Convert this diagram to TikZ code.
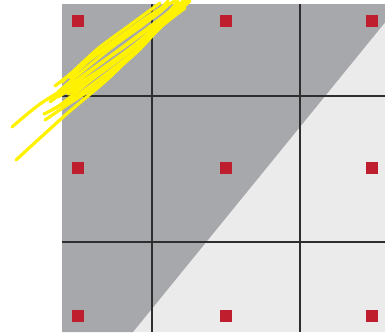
\documentclass[tikz,border=0pt]{standalone}
\begin{document}
\begin{tikzpicture}[x=1pt,y=-1pt,
  dot/.style={fill=dotred,draw=none,minimum size=12pt,inner sep=0pt,outer sep=0pt},
  gridline/.style={draw=gridgray,line width=2pt},
  scribble/.style={draw=scribyellow,line width=3.2pt,line cap=round,line join=round}]
\definecolor{dotred}{HTML}{BE1E2D}
\definecolor{gridgray}{HTML}{2E2E2E}
\definecolor{darkfill}{HTML}{A7A8AB}
\definecolor{lightfill}{HTML}{EBEBEB}
\definecolor{scribyellow}{HTML}{FFF200}
\useasboundingbox (0,0) rectangle (385,333);
% background panels
\fill[lightfill] (62,4) rectangle (385,332);
\fill[darkfill] (62,4) -- (400,4) -- (133,332) -- (62,332) -- cycle;
% grid
\draw[gridline] (152,4) -- (152,332);
\draw[gridline] (300,4) -- (300,332);
\draw[gridline] (62,96) -- (385,96);
\draw[gridline] (62,242) -- (385,242);
% red squares
\foreach \i/\x in {1/78,2/226,3/372}{
  \foreach \j/\y in {1/21,2/168,3/316}{
    \node[dot] (d\i\j) at (\x,\y) {};
  }
}
% yellow scribbles
\draw[scribble] plot[smooth] coordinates {(12,127) (40,104) (75,82) (120,49) (160,19) (186,0)};
\draw[scribble] plot[smooth] coordinates {(16,160) (40,138) (70,111) (110,77) (150,37) (190,1)};
\draw[scribble] plot[smooth] coordinates {(45,120) (70,103) (100,83) (140,49) (178,6)};
\draw[scribble] plot[smooth] coordinates {(44,114) (60,105) (90,81) (130,49) (170,14) (183,1)};
\draw[scribble] plot[smooth] coordinates {(48,99) (65,89) (95,67) (135,39) (165,16) (178,1)};
\draw[scribble] plot[smooth] coordinates {(55,86) (85,63) (120,39) (155,16) (170,3)};
\draw[scribble] plot[smooth] coordinates {(58,97) (80,83) (110,63) (145,37) (175,10) (188,1)};
\draw[scribble] plot[smooth] coordinates {(65,90) (100,71) (135,45) (165,22) (185,5)};
\draw[scribble] plot[smooth] coordinates {(52,110) (75,97) (105,75) (140,47) (172,16)};
\draw[scribble] plot[smooth] coordinates {(62,82) (80,65) (100,47) (130,25) (160,3)};
\draw[scribble] plot[smooth] coordinates {(58,92) (85,69) (115,45) (148,21) (168,1)};
\draw[scribble] plot[smooth] coordinates {(70,78) (95,55) (125,33) (155,12) (175,1)};
\draw[scribble] plot[smooth] coordinates {(50,102) (80,79) (112,55) (145,31) (180,3)};
\draw[scribble] plot[smooth] coordinates {(68,94) (95,77) (125,55) (155,31) (185,8)};
\end{tikzpicture}
\end{document}
